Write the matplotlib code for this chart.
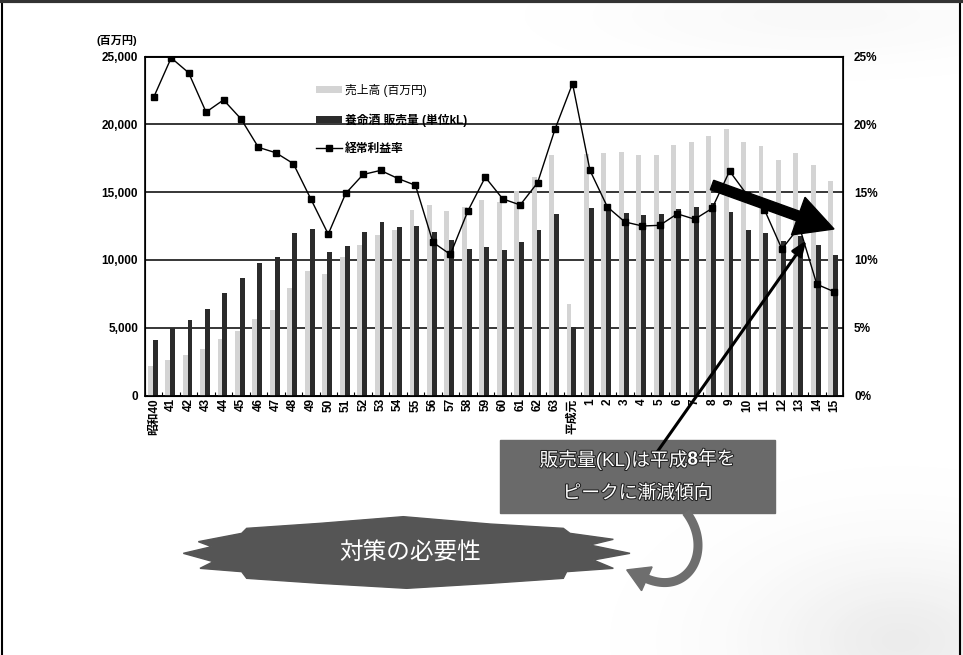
import matplotlib
matplotlib.use("Agg")
import matplotlib.pyplot as plt
import numpy as np
from matplotlib.patches import FancyArrow, Polygon, Rectangle
import matplotlib.patheffects as pe

plt.rcParams['font.family'] = ['Liberation Sans', 'Noto Sans CJK JP', 'DejaVu Sans']

# データ
labels = ['昭和40'] + [str(y) for y in range(41, 64)] + ['平成元'] + [str(y) for y in range(1, 16)]
sales = [2180, 2620, 3010, 3430, 4170, 4760, 5640, 6300, 7930, 9180, 8960, 10210,
         11100, 11840, 12200, 13680, 14070, 13630, 13920, 14440, 14290, 15060, 16140, 17740,
         6750,
         17810, 17910, 17980, 17750, 17730, 18500, 18700, 19140, 19650, 18700, 18400,
         17370, 17910, 17000, 15840]
volume = [4070, 4950, 5570, 6380, 7560, 8670, 9770, 10210, 11980, 12280, 10580, 11020,
          12060, 12790, 12440, 12520, 12060, 11470, 10800, 10950, 10730, 11320, 12200, 13390,
          5050,
          13850, 13630, 13480, 13310, 13390, 13730, 13900, 14170, 13510, 12200, 11980,
          11390, 11760, 11100, 10360]
margin = [22.0, 24.9, 23.8, 20.9, 21.8, 20.4, 18.3, 17.9, 17.1, 14.5, 11.9, 14.9,
          16.3, 16.6, 16.0, 15.5, 11.3, 10.4, 13.6, 16.1, 14.5, 14.05, 15.7, 19.65,
          23.0,
          16.6, 13.9, 12.8, 12.5, 12.55, 13.4, 13.0, 13.8, 16.55, 14.8, 13.7,
          10.8, 12.45, 8.2, 7.65]

W, H = 963, 655
fig = plt.figure(figsize=(W / 100, H / 100), dpi=100)
fig.patch.set_facecolor('white')

# 背景 (右下のうすいグレー)
bg = fig.add_axes([0, 0, 1, 1], zorder=-5)
bg.set_xlim(0, W)
bg.set_ylim(H, 0)
bg.axis('off')
yy, xx = np.mgrid[0:H, 0:W]
blob = np.exp(-(((xx - 900) / 150.0) ** 2 + ((yy - 640) / 90.0) ** 2))
blob += 0.35 * np.exp(-(((xx - 820) / 180.0) ** 2 + ((yy - 15) / 40.0) ** 2))
bg.imshow(blob, extent=(0, W, H, 0), cmap='Greys', vmin=0, vmax=6, alpha=0.8, aspect='auto')

ax = fig.add_axes([145 / W, 1 - 395.5 / H, 698 / W, 339 / H])
x = np.arange(len(labels))
ax.bar(x - 0.2, sales, width=0.28, color='#d4d4d4', zorder=2, label='売上高 (百万円)')
ax.bar(x + 0.08, volume, width=0.28, color='#2b2b2b', zorder=2, label='養命酒 販売量 (単位kL)')
ax.set_xlim(-0.5, len(labels) - 0.5)
ax.set_ylim(0, 25000)
ax.set_yticks([0, 5000, 10000, 15000, 20000, 25000])
ax.set_yticklabels(['0', '5,000', '10,000', '15,000', '20,000', '25,000'],
                   fontsize=8.5, fontweight='bold')
ax.yaxis.grid(True, color='black', linewidth=1.1, zorder=0)
ax.set_axisbelow(True)
ax.tick_params(axis='y', length=0, pad=5)
ax.set_xticks(x)
ax.set_xticklabels(labels, rotation=90, fontsize=8.5, fontweight='bold')
ax.tick_params(axis='x', length=0, pad=2)
ax.set_xticks(np.arange(-0.5, len(labels)), minor=True)
ax.tick_params(axis='x', which='minor', direction='in', length=3, width=0.8)
for s in ax.spines.values():
    s.set_linewidth(1.2)
ax.text(-0.04, 1.03, '(百万円)', transform=ax.transAxes, fontsize=8, fontweight='bold',
        ha='center', va='bottom')

ax2 = ax.twinx()
ax2.plot(x, margin, color='black', linewidth=1, marker='s', markersize=4.5, zorder=3,
         label='経常利益率')
ax2.set_ylim(0, 25)
ax2.set_yticks([0, 5, 10, 15, 20, 25])
ax2.set_yticklabels([f'{v}%' for v in [0, 5, 10, 15, 20, 25]], fontsize=8.5, fontweight='bold')
ax2.tick_params(axis='y', length=0, pad=8)

h1, l1 = ax.get_legend_handles_labels()
h2, l2 = ax2.get_legend_handles_labels()
leg = fig.legend(h1 + h2, l1 + l2, loc='upper left', bbox_to_anchor=(305 / W, 1 - 73 / H),
                 frameon=False, fontsize=8.5, labelspacing=1.4, handlelength=2.2,
                 handleheight=0.5, handletextpad=0.3)
for i, t in enumerate(leg.get_texts()):
    if i > 0:
        t.set_fontweight('bold')

# 注釈レイヤー (ピクセル座標)
ov = fig.add_axes([0, 0, 1, 1], zorder=10)
ov.set_xlim(0, W)
ov.set_ylim(H, 0)
ov.axis('off')
ov.patch.set_alpha(0)

# 枠線
ov.plot([2, 2], [0, H], color='black', lw=1.5)
ov.plot([960, 960], [0, H], color='black', lw=1.5)
ov.plot([0, W], [1, 1], color='#333333', lw=3)

ov.add_patch(FancyArrow(712, 185, 122, 44, width=10, head_width=40, head_length=38,
                        length_includes_head=True, color='black'))
ov.annotate('', xy=(808, 238), xytext=(655, 455),
            arrowprops=dict(arrowstyle='-|>,head_length=0.9,head_width=0.35',
                            color='black', lw=2.2))

ov.add_patch(Rectangle((500, 440), 275, 73, color='#6a6a6a'))
stroke = [pe.withStroke(linewidth=1.5, foreground='#222222')]
# 1行目: "8" だけ太字
renderer = fig.canvas.get_renderer()
parts = [('販売量(KL)は平成', 'normal'), ('8', 'bold'), ('年を', 'normal')]
texts = []
for s, w in parts:
    texts.append(ov.text(0, 460, s, color='white', fontsize=13.5, fontweight=w,
                         ha='left', va='center', path_effects=stroke))
widths = [tx.get_window_extent(renderer).width for tx in texts]
xpos = 637.5 - sum(widths) / 2
for tx, wd in zip(texts, widths):
    tx.set_x(xpos)
    xpos += wd
ov.text(637.5, 494, 'ピークに漸減傾向', color='white', fontsize=13.5, ha='center',
        va='center', path_effects=stroke)

# 曲がった矢印
p0, p1, p2, p3 = (np.array(p, dtype=float) for p in [(686, 512), (714, 548), (690, 598), (645, 578)])
t = np.linspace(0, 1, 60)[:, None]
bez = (1 - t) ** 3 * p0 + 3 * (1 - t) ** 2 * t * p1 + 3 * (1 - t) * t ** 2 * p2 + t ** 3 * p3
ov.plot(bez[:, 0], bez[:, 1], color='#6e6e6e', lw=6.5, solid_capstyle='butt')
d = p3 - p2
d = d / np.hypot(*d)
nrm = np.array([-d[1], d[0]])
tip = p3 + d * 20
ov.add_patch(Polygon([tip, p3 + nrm * 13 - d * 2, p3 - nrm * 13 - d * 2], closed=True,
                     color='#6e6e6e'))

zpts = [(40, 160), (125, 140), (85, 125), (215, 100), (230, 85), (450, 70), (700, 50),
        (960, 72), (1180, 85), (1200, 100), (1330, 118), (1260, 135), (1380, 160),
        (1270, 180), (1330, 205), (1190, 215), (1180, 235), (960, 250), (710, 265),
        (450, 250), (230, 235), (215, 215), (90, 205), (130, 185)]
burst = [(170 + px / 3, 500 + py / 3) for px, py in zpts]
ov.add_patch(Polygon(burst, closed=True, color='#555555'))
ov.text(410, 554, '対策の必要性', color='white', fontsize=17, ha='center', va='center')

plt.savefig('out.png', dpi=100)
